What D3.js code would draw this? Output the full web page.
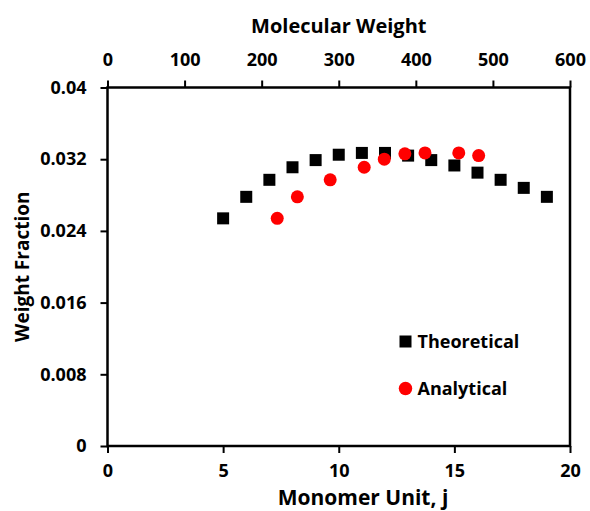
<!DOCTYPE html>
<html>
<head>
<meta charset="utf-8">
<script src="https://cdn.jsdelivr.net/npm/d3@7"></script>
<style>
  html, body { margin: 0; padding: 0; background: #fff; }
  svg text { font-family: "Open Sans", Lato, sans-serif; font-weight: bold; fill: #000; }
</style>
</head>
<body>
<svg id="chart" width="590" height="511"></svg>
<script>
// Monomer units and weight fractions
const theoJ = [5, 6, 7, 8, 9, 10, 11, 12, 13, 14, 15, 16, 17, 18, 19];
const theoW = [0.0254, 0.0278, 0.0297, 0.0311, 0.0319, 0.0325, 0.0327, 0.0327, 0.0324, 0.0319, 0.0313, 0.0305, 0.0297, 0.0288, 0.0278];
const anaJ = [7.34, 8.21, 9.63, 11.10, 11.97, 12.86, 13.73, 15.19, 16.05];
const anaW = [0.0254, 0.0278, 0.0297, 0.0311, 0.0320, 0.0326, 0.0327, 0.0327, 0.0324];

const xTicks = [0, 5, 10, 15, 20];
const mwTicks = [0, 100, 200, 300, 400, 500, 600];
const yTicks = [0, 0.008, 0.016, 0.024, 0.032, 0.04];
const yTickLabels = ["0", "0.008", "0.016", "0.024", "0.032", "0.04"];
const seriesNames = ["Theoretical", "Analytical"];

const svg = d3.select("#chart");
const m = { left: 107.5, right: 570, top: 87.5, bottom: 446 };

const x = d3.scaleLinear().domain([0, 20]).range([m.left, m.right]);
const xTop = d3.scaleLinear().domain([0, 600]).range([m.left, m.right]);
const y = d3.scaleLinear().domain([0, 0.04]).range([m.bottom, m.top]);

// plot frame
svg.append("rect")
  .attr("x", m.left).attr("y", m.top)
  .attr("width", m.right - m.left).attr("height", m.bottom - m.top)
  .attr("fill", "none").attr("stroke", "#000").attr("stroke-width", 2.5);

function styleAxis(g) {
  g.select(".domain").remove();
  g.selectAll(".tick line").attr("stroke", "#000").attr("stroke-width", 2);
  g.selectAll(".tick text").style("font-size", "18px");
}

svg.append("g")
  .attr("transform", `translate(0,${m.bottom})`)
  .call(d3.axisBottom(x).tickValues(xTicks).tickSize(7).tickPadding(11))
  .call(styleAxis);

svg.append("g")
  .attr("transform", `translate(0,${m.top})`)
  .call(d3.axisTop(xTop).tickValues(mwTicks).tickSize(7).tickPadding(15))
  .call(styleAxis);

svg.append("g")
  .attr("transform", `translate(${m.left},0)`)
  .call(d3.axisLeft(y).tickValues(yTicks).tickSize(7).tickPadding(14)
    .tickFormat((d, i) => yTickLabels[i]))
  .call(styleAxis);

// axis titles
svg.append("text")
  .attr("x", (m.left + m.right) / 2).attr("y", 33)
  .attr("text-anchor", "middle").style("font-size", "20px")
  .text("Molecular Weight");

svg.append("text")
  .attr("x", 363).attr("y", 505)
  .attr("text-anchor", "middle").style("font-size", "21px")
  .text("Monomer Unit, j");

svg.append("text")
  .attr("transform", `translate(29,${(m.top + m.bottom) / 2}) rotate(-90)`)
  .attr("text-anchor", "middle").style("font-size", "19px")
  .text("Weight Fraction");

// theoretical points
const sq = 12;
svg.append("g").selectAll("rect")
  .data(theoJ.map((j, i) => [j, theoW[i]]))
  .join("rect")
  .attr("x", d => x(d[0]) - sq / 2)
  .attr("y", d => y(d[1]) - sq / 2)
  .attr("width", sq).attr("height", sq)
  .attr("fill", "#000");

// analytical points
svg.append("g").selectAll("circle")
  .data(anaJ.map((j, i) => [j, anaW[i]]))
  .join("circle")
  .attr("cx", d => x(d[0]))
  .attr("cy", d => y(d[1]))
  .attr("r", 6.5)
  .attr("fill", "#ff0000");

// legend
const leg = svg.append("g").attr("transform", "translate(405.5,0)");
leg.append("rect").attr("x", -6).attr("y", 335.5).attr("width", 12).attr("height", 12).attr("fill", "#000");
leg.append("text").attr("x", 12).attr("y", 341.5).attr("dy", "0.35em").style("font-size", "18px").text(seriesNames[0]);
leg.append("circle").attr("cx", 0).attr("cy", 388.5).attr("r", 6.75).attr("fill", "#ff0000");
leg.append("text").attr("x", 12).attr("y", 388.5).attr("dy", "0.35em").style("font-size", "18px").text(seriesNames[1]);
</script>
</body>
</html>
